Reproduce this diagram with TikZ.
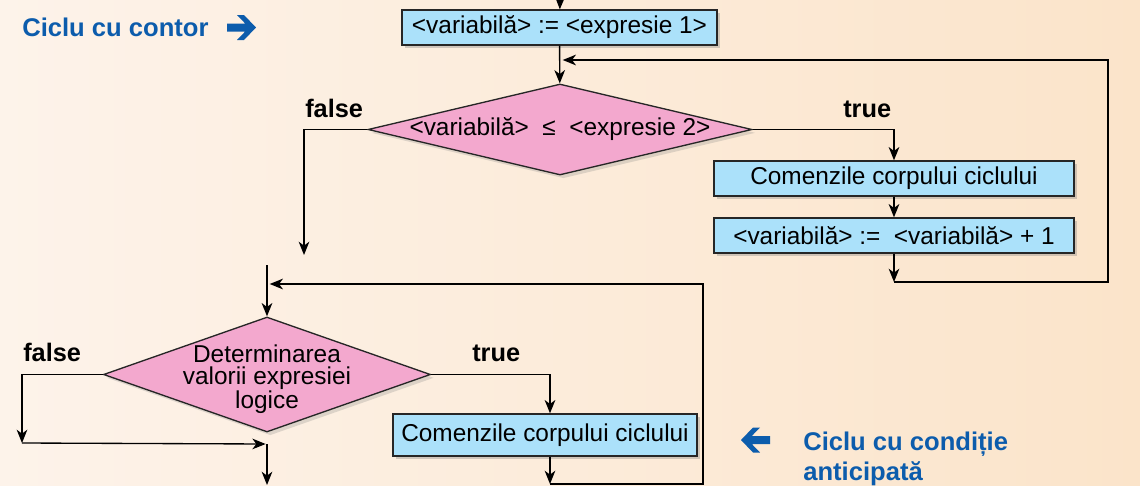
\documentclass[tikz,border=0pt]{standalone}
\usepackage{fontspec}
\setmainfont{Liberation Sans}
\usetikzlibrary{arrows.meta,shapes.geometric,shadows}

\definecolor{boxblue}{RGB}{171,225,250}
\definecolor{decpink}{RGB}{243,168,206}
\definecolor{titleblue}{RGB}{12,92,172}
\definecolor{bgleft}{RGB}{253,243,234}
\definecolor{bgright}{RGB}{251,228,202}

\tikzset{
  instr/.style={draw=black!85, line width=1pt, fill=boxblue, minimum height=26.25pt,
    inner sep=0pt, font=\fontsize{18.3}{20}\selectfont,
    drop shadow={opacity=.35, shadow xshift=2.5pt, shadow yshift=-2.5pt}},
  decision/.style={diamond, draw=black!85, line width=1pt, fill=decpink, inner sep=0pt,
    drop shadow={opacity=.25, shadow xshift=2.5pt, shadow yshift=-2.5pt}},
  dectext/.style={font=\fontsize{18.3}{16.2}\selectfont, align=center, inner sep=0pt},
  flow/.style={line width=1pt, -{Stealth[length=10pt, width=8pt, inset=3pt]}},
  branch/.style={font=\bfseries\fontsize{19}{21}\selectfont, anchor=base west, inner sep=0pt},
  looptitle/.style={text=titleblue, font=\bfseries\fontsize{19.2}{22}\selectfont,
    anchor=base west, inner sep=0pt},
  fatarrow/.pic={
    \fill[titleblue] (0,-4) -- (18.2,-4) -- (10,-12.5) -- (17,-12.5) -- (29,0)
      -- (17,12.5) -- (10,12.5) -- (18.2,4) -- (0,4) -- cycle;
  }
}

\begin{document}
\begin{tikzpicture}[x=0.75pt,y=0.75pt,yscale=-1]
\fill[left color=bgleft, right color=bgright] (0,0) rectangle (1140,486);
\useasboundingbox (0,0) rectangle (1140,486);

% ---- counter loop ----
\coordinate (entry) at (560,0);
\coordinate (join1) at (560,60);
\coordinate (exit1) at (304,255);
\coordinate (back1) at (894,282);
\coordinate (turn1) at (1108,60);

\node[instr, minimum width=236.25pt] (init) at (559.5,27.5) {<variabilă> := <expresie 1>};
\node[decision, minimum width=288pt, minimum height=68.25pt] (test) at (560,129.5) {};
\node[dectext] (testtxt) at (560,129.5) {<variabilă>~~≤~~<expresie 2>};
\node[instr, minimum width=270pt] (body) at (894,178.5) {Comenzile corpului ciclului};
\node[instr, minimum width=270pt] (incr) at (894,235.5) {<variabilă> :=~~<variabilă> + 1};

\draw[flow] (entry) -- (init);
\draw[flow] (init) -- (test);
\draw[flow] (test.west) -| (exit1);
\draw[flow] (test.east) -| (body);
\draw[flow] (body) -- (incr);
\draw[flow] (incr) -- (back1);
\draw[flow] (back1) -| (turn1) -- ([xshift=2pt]join1);

\node[branch] (false1) at (305,117) {false};
\node[branch] (true1) at (843,117) {true};

% ---- pre-test loop ----
\coordinate (entry2) at (267,265);
\coordinate (join2) at (267,284);
\coordinate (tap2) at (550,374.5);
\coordinate (back2) at (550,484);
\coordinate (turn2) at (703,284);
\coordinate (side2) at (22,443);
\coordinate (merge2) at (267,444);
\coordinate (exit2) at (267,485);

\node[decision, minimum width=245.25pt, minimum height=86.25pt] (cond) at (267,374.5) {};
\node[dectext] (condtxt) at (267,379) {Determinarea\\valorii expresiei\\logice};
\node[instr, minimum width=228pt, minimum height=31.5pt] (body2) at (545,435) {Comenzile corpului ciclului};

\draw[flow] (entry2) -- (cond);
\draw[flow] (cond.east) -| (tap2 |- body2.north);
\draw[flow] (tap2 |- body2.south) -- (back2);
\draw[flow] (back2) -| (turn2) -- ([xshift=2pt]join2);
\draw[flow] (cond.west) -| (side2);
\draw[flow] (side2) -- ([xshift=-1pt]merge2);
\draw[flow] (merge2) -- (exit2);

\node[branch] (false2) at (23,361) {false};
\node[branch] (true2) at (472,361) {true};

% ---- captions ----
\node[looptitle] (title1) at (22,36) {Ciclu cu contor};
\pic at (227,27.5) {fatarrow};
\pic[xscale=-1] at (770,440) {fatarrow};
\node[looptitle] (title2) at (803,450) {Ciclu cu condiție};
\node[looptitle] (title2b) at (803,480) {anticipată};
\end{tikzpicture}
\end{document}
